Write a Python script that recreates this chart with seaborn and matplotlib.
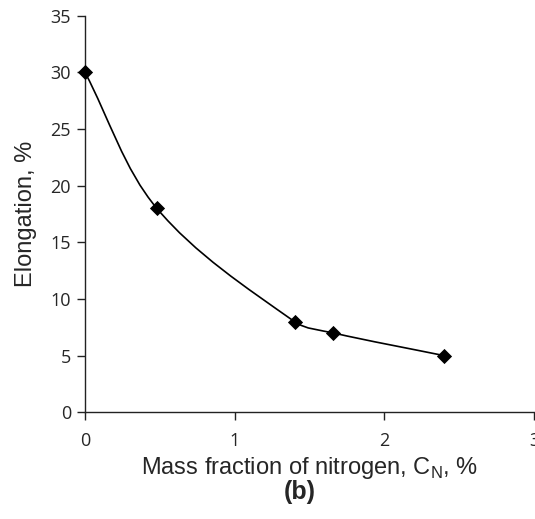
import matplotlib
matplotlib.use('Agg')
import numpy as np
import pandas as pd
import matplotlib.pyplot as plt
from matplotlib.path import Path
from matplotlib.patches import PathPatch
import seaborn as sns

# Dados
nitrogen = [0.0, 0.48, 1.40, 1.66, 2.40]
elongation = [30, 18, 8, 7, 5]
x_ticks = [0, 1, 2, 3]
y_ticks = [0, 5, 10, 15, 20, 25, 30, 35]

df = pd.DataFrame({'cn': nitrogen, 'el': elongation})

sns.set_style('white')
plt.rcParams['font.family'] = ['Liberation Sans', 'DejaVu Sans']

fig = plt.figure(figsize=(5.35, 5.19), dpi=100)
ax = fig.add_axes([85 / 535, 106.7 / 519, 449 / 535, 396.6 / 519])
ax.set_xlim(0, 3)
ax.set_ylim(0, 35)

# Linha suavizada (tipo Excel), calculada em coordenadas de tela
pts = ax.transData.transform(df[['cn', 'el']].to_numpy(dtype=float))
n = len(pts)
tang = []
for i in range(n):
    a = pts[max(i - 1, 0)]
    b = pts[min(i + 1, n - 1)]
    d = b - a
    tang.append(d / np.hypot(*d))
verts = [tuple(pts[0])]
codes = [Path.MOVETO]
for i in range(n - 1):
    p1, p2 = pts[i], pts[i + 1]
    L = np.hypot(*(p2 - p1)) / 3
    verts += [tuple(p1 + tang[i] * L), tuple(p2 - tang[i + 1] * L), tuple(p2)]
    codes += [Path.CURVE4] * 3
verts = ax.transData.inverted().transform(np.array(verts))
ax.add_patch(PathPatch(Path(verts, codes), fill=False, edgecolor='black', lw=1.2, zorder=2))

sns.scatterplot(data=df, x='cn', y='el', marker='D', s=60, color='black',
                edgecolor='black', linewidth=0, ax=ax, zorder=3, clip_on=False)

ax.set_xlim(0, 3)
ax.set_ylim(0, 35)
ax.set_xticks(x_ticks)
ax.set_yticks(y_ticks)
for lab in ax.get_xticklabels() + ax.get_yticklabels():
    lab.set_family(['Open Sans', 'DejaVu Sans'])
    lab.set_fontsize(13)
ax.tick_params(axis='both', direction='out', length=6, width=1, color='#222222',
               bottom=True, left=True)
ax.tick_params(axis='x', pad=8)
ax.tick_params(axis='y', pad=4)

sns.despine(ax=ax)
for sp in ['left', 'bottom']:
    ax.spines[sp].set_color('#222222')
    ax.spines[sp].set_linewidth(1)

ax.set_xlabel(r'Mass fraction of nitrogen, C$_\mathregular{N}$, %', fontsize=17, labelpad=4)
ax.set_ylabel('Elongation, %', fontsize=17, labelpad=10)
fig.text(300 / 535, 1 - 492 / 519, '(b)', fontsize=18, fontweight='bold',
         ha='center', va='center')

plt.savefig('out.png', dpi=100)
plt.close()
